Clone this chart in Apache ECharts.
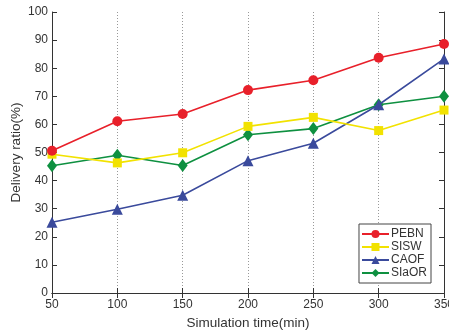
<!DOCTYPE html>
<html><head><meta charset="utf-8">
<script src="https://cdn.jsdelivr.net/npm/echarts@6/dist/echarts.min.js"></script>
<style>html,body{margin:0;padding:0;background:#fff}#c{width:449px;height:330px}</style>
</head><body><div id="c"></div>
<script>
const times = [50, 100, 150, 200, 250, 300, 350];
const PEBN = [50.6, 61.1, 63.7, 72.2, 75.7, 83.7, 88.6];
const SISW = [49.4, 46.3, 49.9, 59.3, 62.5, 57.8, 65.1];
const CAOF = [25.2, 29.8, 34.8, 47.1, 53.3, 67.0, 83.3];
const SlaOR = [45.3, 49.0, 45.4, 56.3, 58.5, 67.0, 70.0];
const names = ['PEBN', 'SISW', 'CAOF', 'SIaOR'];
const colors = ['#e8202a', '#f2e200', '#3a4a9c', '#0e9040'];
const symbols = ['circle', 'rect', 'triangle', 'diamond'];
const sizes = [10, 9, 11, [10, 13]];
const values = [PEBN, SISW, CAOF, SlaOR];

const font = 'Liberation Sans, Arial, sans-serif';
const chart = echarts.init(document.getElementById('c'), null, {renderer: 'canvas'});
const axisCommon = {
  axisLine: {show: true, lineStyle: {color: '#333', width: 1}},
  axisTick: {show: true, inside: true, length: 5, lineStyle: {color: '#333'}},
};
chart.setOption({
  animation: false,
  grid: {left: 52, right: 5, top: 12, bottom: 37, containLabel: false, outerBoundsMode: 'none'},
  xAxis: [
    Object.assign({type: 'value', min: 50, max: 350, interval: 50, position: 'bottom',
      name: 'Simulation time(min)', nameLocation: 'middle', nameGap: 22,
      nameTextStyle: {color: '#333', fontSize: 13.5, fontFamily: font},
      splitLine: {show: true, lineStyle: {color: '#999', type: [1, 2], width: 1}},
      axisLabel: {color: '#333', fontSize: 12, fontFamily: font, margin: 6, showMaxLabel: true, hideOverlap: false}
    }, axisCommon),
    Object.assign({type: 'value', min: 50, max: 350, interval: 50, position: 'top',
      splitLine: {show: false}, axisLabel: {show: false}}, axisCommon)
  ],
  yAxis: [
    Object.assign({type: 'value', min: 0, max: 100, interval: 10, position: 'left',
      name: 'Delivery ratio(%)', nameLocation: 'middle', nameGap: 29, nameMoveOverlap: false,
      nameTextStyle: {color: '#333', fontSize: 13.5, fontFamily: font},
      splitLine: {show: false},
      axisLabel: {color: '#333', fontSize: 12, fontFamily: font, margin: 4}
    }, axisCommon),
    Object.assign({type: 'value', min: 0, max: 100, interval: 10, position: 'right',
      splitLine: {show: false}, axisLabel: {show: false}}, axisCommon)
  ],
  legend: {
    orient: 'vertical', right: 18, bottom: 47,
    data: names,
    itemWidth: 27, itemHeight: 10, itemGap: 1,
    padding: [4, 4, 4, 2],
    borderColor: '#444', borderWidth: 1, backgroundColor: '#fff',
    textStyle: {color: '#333', fontSize: 12, lineHeight: 12, fontFamily: font, padding: [0, 0, 0, -3]}
  },
  series: names.map((n, i) => ({
    name: n, type: 'line',
    data: times.map((t, j) => [t, values[i][j]]),
    symbol: symbols[i], symbolSize: sizes[i], showSymbol: true,
    lineStyle: {color: colors[i], width: 1.6},
    itemStyle: {color: colors[i]},
    z: 10 - i
  }))
});
</script></body></html>
